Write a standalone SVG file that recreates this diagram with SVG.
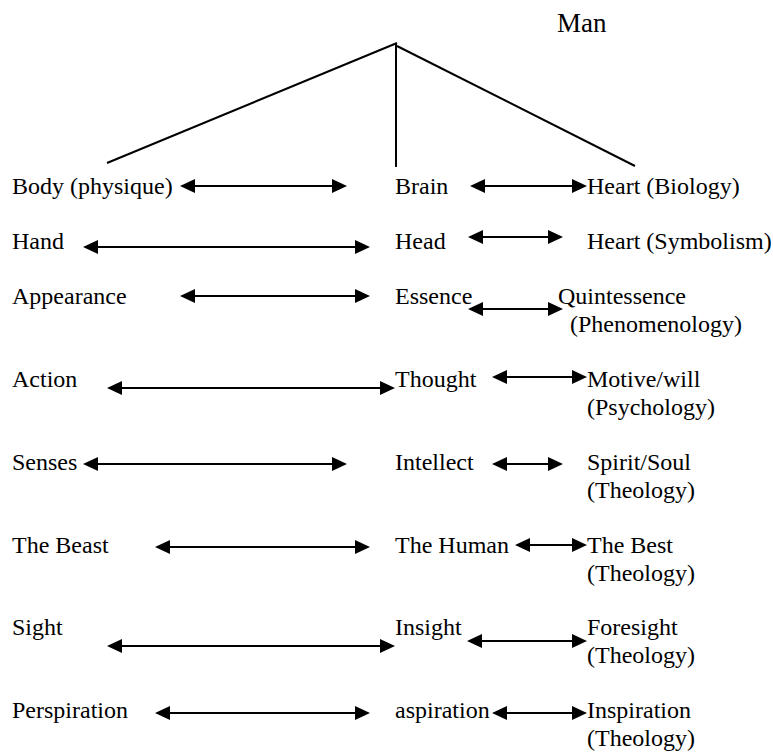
<svg xmlns="http://www.w3.org/2000/svg" width="773" height="755" viewBox="0 0 773 755">
<style>
text{font-family:"Liberation Serif","Times New Roman",serif;font-size:24px;fill:#000}
.c line{stroke:#000;stroke-width:2}
.a{marker-start:url(#ah);marker-end:url(#ah)}
</style>
<defs>
<marker id="ah" viewBox="0 0 15 14" refX="10" refY="7" markerWidth="15" markerHeight="14" markerUnits="userSpaceOnUse" orient="auto-start-reverse">
<path d="M0,0 L15,7 L0,14 z" fill="#000"/>
</marker>
</defs>
<g id="man"><text x="557" y="32" style="font-size:27px">Man</text></g>
<g id="tree" class="c">
<line x1="397" y1="43" x2="107" y2="163"/>
<line x1="396" y1="44" x2="396" y2="167"/>
<line x1="397" y1="46" x2="635" y2="166"/>
</g>
<g id="body"><text x="12" y="194">Body (physique)</text></g>
<g id="brain"><text x="395" y="194">Brain</text></g>
<g id="heart-bio"><text x="587" y="194">Heart (Biology)</text></g>
<g id="hand"><text x="12" y="249">Hand</text></g>
<g id="head"><text x="395" y="249">Head</text></g>
<g id="heart-sym"><text x="587" y="249">Heart (Symbolism)</text></g>
<g id="appearance"><text x="12" y="304">Appearance</text></g>
<g id="essence"><text x="395" y="304">Essence</text></g>
<g id="quintessence"><text x="558" y="304">Quintessence</text><text x="570" y="332">(Phenomenology)</text></g>
<g id="action"><text x="12" y="387">Action</text></g>
<g id="thought"><text x="395" y="387">Thought</text></g>
<g id="motive"><text x="587" y="387">Motive/will</text><text x="587" y="415">(Psychology)</text></g>
<g id="senses"><text x="12" y="470">Senses</text></g>
<g id="intellect"><text x="395" y="470">Intellect</text></g>
<g id="spirit"><text x="587" y="470">Spirit/Soul</text><text x="587" y="498">(Theology)</text></g>
<g id="beast"><text x="12" y="553">The Beast</text></g>
<g id="human"><text x="395" y="553">The Human</text></g>
<g id="best"><text x="587" y="553">The Best</text><text x="587" y="581">(Theology)</text></g>
<g id="sight"><text x="12" y="635">Sight</text></g>
<g id="insight"><text x="395" y="635">Insight</text></g>
<g id="foresight"><text x="587" y="635">Foresight</text><text x="587" y="663">(Theology)</text></g>
<g id="perspiration"><text x="12" y="718">Perspiration</text></g>
<g id="aspiration"><text x="395" y="718">aspiration</text></g>
<g id="inspiration"><text x="587" y="718">Inspiration</text><text x="587" y="746">(Theology)</text></g>
<g id="connectors" class="c">
<line class="a" x1="185" y1="186" x2="342" y2="186"/>
<line class="a" x1="475" y1="186" x2="582" y2="186"/>
<line class="a" x1="88" y1="247" x2="365" y2="247"/>
<line class="a" x1="473" y1="237" x2="558" y2="237"/>
<line class="a" x1="185" y1="296" x2="365" y2="296"/>
<line class="a" x1="473" y1="309" x2="558" y2="309"/>
<line class="a" x1="112" y1="388" x2="390" y2="388"/>
<line class="a" x1="497" y1="377" x2="582" y2="377"/>
<line class="a" x1="88" y1="464" x2="342" y2="464"/>
<line class="a" x1="497" y1="464" x2="558" y2="464"/>
<line class="a" x1="160" y1="547" x2="365" y2="547"/>
<line class="a" x1="520" y1="545" x2="582" y2="545"/>
<line class="a" x1="112" y1="646" x2="390" y2="646"/>
<line class="a" x1="472" y1="641" x2="582" y2="641"/>
<line class="a" x1="160" y1="713" x2="365" y2="713"/>
<line class="a" x1="497" y1="713" x2="582" y2="713"/>
</g>
</svg>
